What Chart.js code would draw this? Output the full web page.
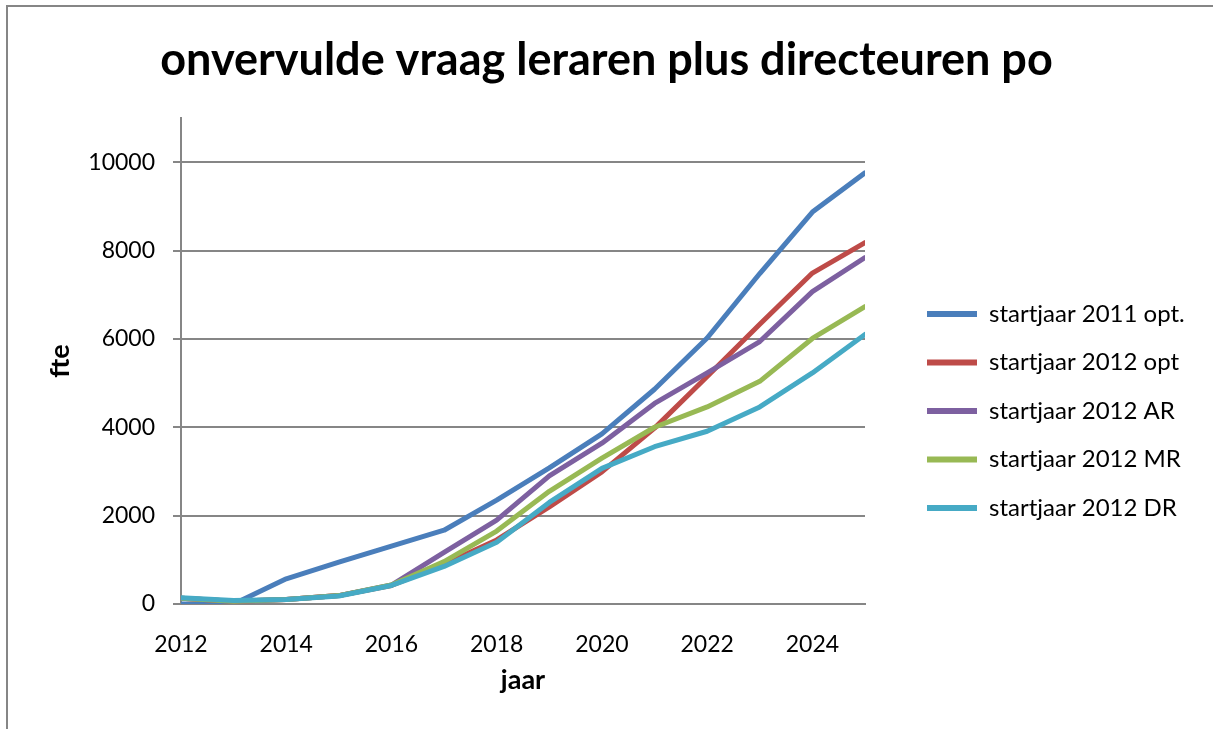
<!DOCTYPE html>
<html>
<head>
<meta charset="utf-8">
<script src="https://cdn.jsdelivr.net/npm/chart.js@4/dist/chart.umd.min.js"></script>
<style>
  html, body { margin: 0; padding: 0; background: #fff; }
  #c { display: block; }
</style>
</head>
<body>
<canvas id="c" width="1213" height="729"></canvas>
<script>
const years        = [2012, 2013, 2014, 2015, 2016, 2017, 2018, 2019, 2020, 2021, 2022, 2023, 2024, 2025];
const start2011Opt = [0, 0, 570, 950, 1310, 1670, 2350, 3080, 3850, 4860, 6020, 7480, 8870, 9760];
const start2012Opt = [130, 60, 100, 190, 420, 900, 1450, 2200, 2990, 3980, 5150, 6330, 7490, 8180];
const start2012AR  = [130, 60, 100, 190, 430, 1170, 1900, 2900, 3640, 4540, 5230, 5940, 7070, 7840];
const start2012MR  = [130, 60, 100, 190, 430, 960, 1650, 2550, 3300, 4000, 4460, 5040, 6010, 6730];
const start2012DR  = [140, 80, 100, 180, 420, 850, 1400, 2300, 3070, 3560, 3910, 4460, 5230, 6100];

const xTicks = [2012, 2014, 2016, 2018, 2020, 2022, 2024];
const yTicks = [0, 2000, 4000, 6000, 8000, 10000];

const seriesNames  = ['startjaar 2011 opt.', 'startjaar 2012 opt', 'startjaar 2012 AR', 'startjaar 2012 MR', 'startjaar 2012 DR'];
const seriesValues = [start2011Opt, start2012Opt, start2012AR, start2012MR, start2012DR];
const seriesColors = ['#4A7EBB', '#BE4B48', '#7D60A0', '#98B954', '#46AAC5'];

const GRID = '#868686';

Chart.defaults.font.family = 'Lato';
Chart.defaults.color = '#000';

// outer frame like the Excel chart border
const frame = {
  id: 'frame',
  beforeDraw(chart) {
    const ctx = chart.ctx;
    ctx.save();
    ctx.strokeStyle = GRID;
    ctx.lineWidth = 2;
    ctx.strokeRect(7, 6, 1400, 900);
    ctx.restore();
  }
};

// keep the plot area where the original has it, legend sits to its right
const legendPlace = {
  id: 'legendPlace',
  afterInit(chart) {
    const lg = chart.legend;
    const fit = lg.fit;
    lg.fit = function () { fit.call(this); this.width = 348; };
  },
  afterLayout(chart) {
    const lg = chart.legend;
    lg.left = 927 - 24.5;
    lg.top = 277.5;
  }
};

const datasets = seriesNames.map((name, i) => ({
  label: name,
  data: years.map((y, j) => ({ x: y, y: seriesValues[i][j] })),
  borderColor: seriesColors[i],
  backgroundColor: seriesColors[i],
  borderWidth: 5,
  pointRadius: 0,
  tension: 0,
  borderJoinStyle: 'round',
  borderCapStyle: 'round',
  order: seriesNames.length - i
}));

new Chart(document.getElementById('c'), {
  type: 'line',
  data: { datasets },
  plugins: [frame, legendPlace],
  options: {
    responsive: false,
    animation: false,
    layout: { padding: 0 },
    plugins: {
      title: {
        display: true,
        text: 'onvervulde vraag leraren plus directeuren po',
        font: { size: 45, weight: 'bold' },
        color: '#000',
        padding: { top: 33, bottom: 31 }
      },
      legend: {
        position: 'right',
        align: 'start',
        labels: {
          boxWidth: 50,
          boxHeight: 6,
          padding: 24.5,
          font: { size: 24 },
          color: '#000',
          sort: (a, b) => a.datasetIndex - b.datasetIndex,
          generateLabels: chart =>
            Chart.defaults.plugins.legend.labels.generateLabels(chart)
              .map(it => ({ ...it, lineWidth: 0, fillStyle: it.strokeStyle }))
        }
      },
      tooltip: { enabled: false }
    },
    scales: {
      x: {
        type: 'linear',
        min: 2012,
        max: 2025,
        afterFit: s => { s.height = 125; },
        afterBuildTicks: s => { s.ticks = xTicks.map(v => ({ value: v })); },
        ticks: {
          padding: 19,
          font: { size: 23 },
          callback: v => String(v)
        },
        grid: { display: false },
        border: { display: true, color: GRID, width: 2 },
        title: {
          display: true,
          text: 'jaar',
          font: { size: 27, weight: 'bold' },
          padding: { top: 0, bottom: 33 }
        }
      },
      y: {
        min: 0,
        max: 11000,
        afterFit: s => { s.width = 181; },
        afterBuildTicks: s => { s.ticks = yTicks.map(v => ({ value: v })); },
        ticks: {
          padding: 18,
          font: { size: 23 },
          callback: v => String(v)
        },
        grid: { color: GRID, lineWidth: 2, tickLength: 8, tickColor: GRID },
        border: { display: true, color: GRID, width: 2 },
        title: {
          display: true,
          text: 'fte',
          font: { size: 27, weight: 'bold' },
          padding: { top: 44, bottom: 0 }
        }
      }
    }
  }
});
</script>
</body>
</html>
